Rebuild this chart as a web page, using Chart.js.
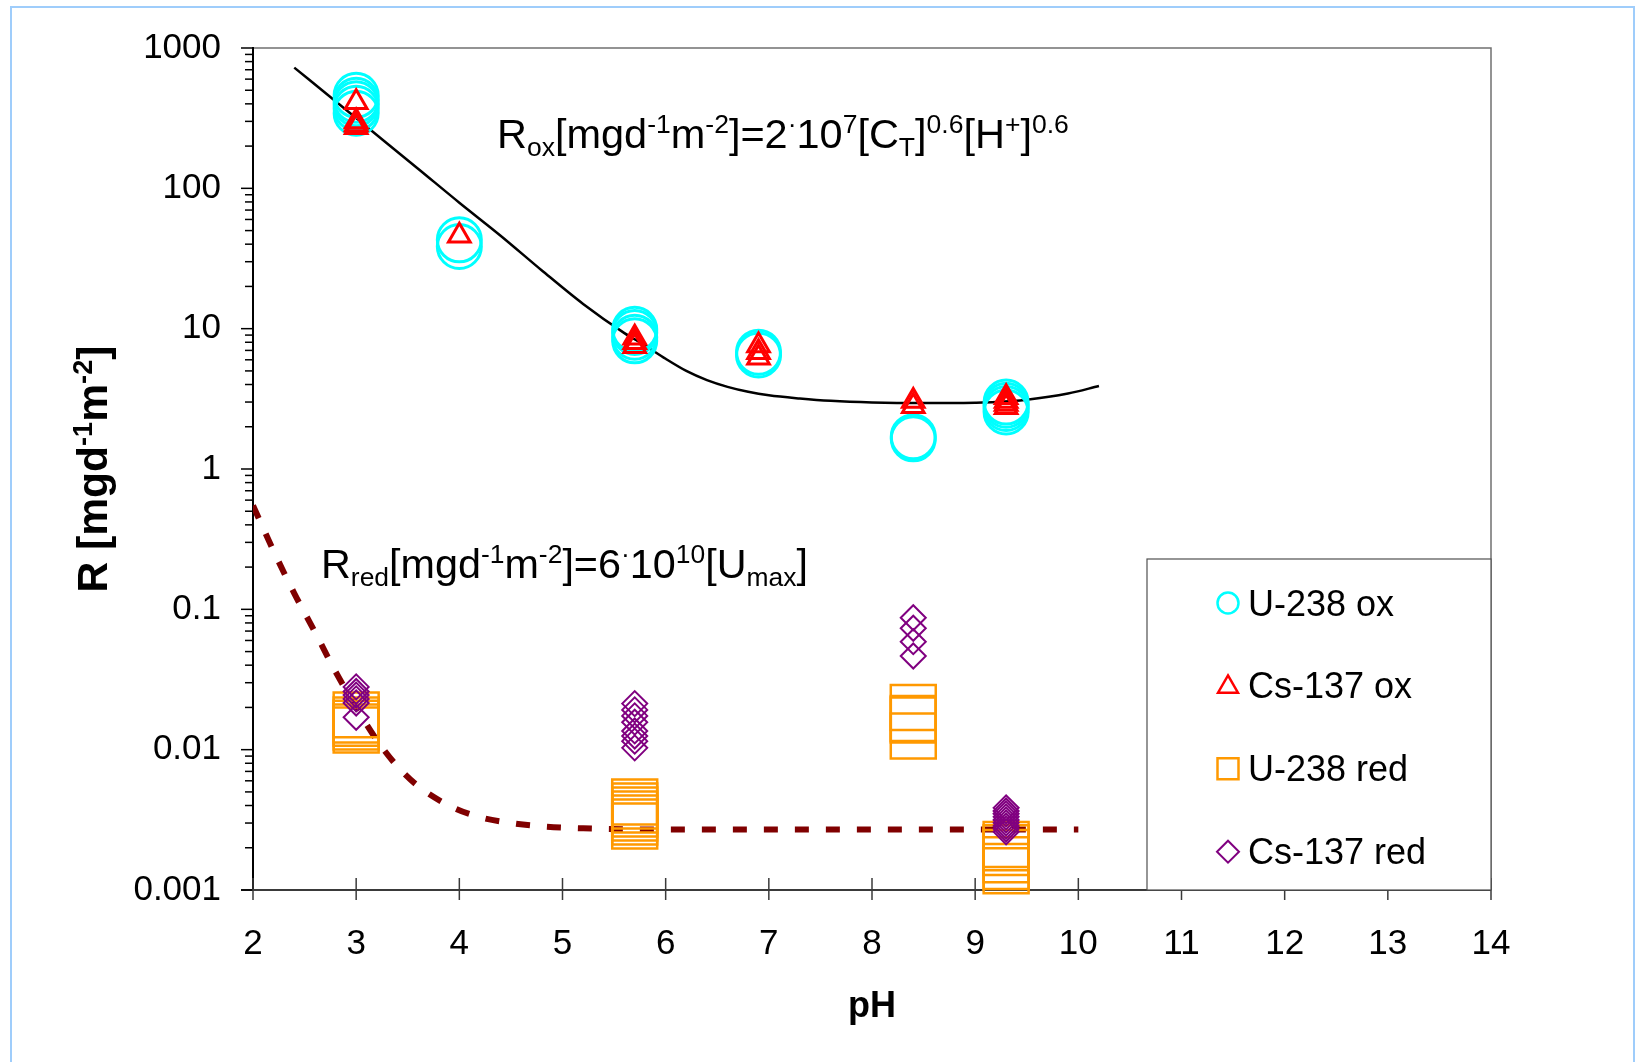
<!DOCTYPE html>
<html>
<head>
<meta charset="utf-8">
<script src="https://cdn.jsdelivr.net/npm/chart.js@4/dist/chart.umd.min.js"></script>
<style>
  html, body { margin: 0; padding: 0; background: #fff; }
  canvas { display: block; }
</style>
</head>
<body>
<canvas id="chart" width="1645" height="1062"></canvas>
<script>
// ---- data -------------------------------------------------------------
const xTickValues = [2, 3, 4, 5, 6, 7, 8, 9, 10, 11, 12, 13, 14];
const yTickValues = [0.001, 0.01, 0.1, 1, 10, 100, 1000];

// U-238, oxidizing conditions
const u238OxPH = [3, 3, 3, 3, 3, 4, 4, 5.7, 5.7, 5.7, 5.7, 6.9, 6.9, 8.4, 8.4, 9.3, 9.3, 9.3, 9.3];
const u238OxR  = [460, 424, 400, 372, 343, 43, 38.5, 9.9, 9.4, 8.7, 8.2, 6.8, 6.5, 1.7, 1.64, 3.0, 2.85, 2.7, 2.55];

// Cs-137, oxidizing conditions
const cs137OxPH = [3, 3, 3, 3, 4, 5.7, 5.7, 5.7, 6.9, 6.9, 6.9, 8.4, 8.4, 9.3, 9.3, 9.3, 9.3];
const cs137OxR  = [410, 300, 285, 272, 46, 8.6, 8.0, 7.5, 7.6, 6.8, 6.2, 3.05, 2.8, 3.25, 3.05, 2.9, 2.75];

// U-238, reducing conditions
const u238RedPH = [3, 3, 3, 3, 3, 5.7, 5.7, 5.7, 5.7, 5.7, 5.7, 5.7, 8.4, 8.4, 8.4, 8.4, 9.3, 9.3, 9.3, 9.3, 9.3, 9.3];
const u238RedR  = [0.0177, 0.0163, 0.0154, 0.0145, 0.0138,
                   0.00424, 0.00397, 0.00371, 0.00348, 0.00326, 0.00305, 0.00286,
                   0.0200, 0.0167, 0.0163, 0.0125,
                   0.00211, 0.00200, 0.00185, 0.00164, 0.00147, 0.00137];

// Cs-137, reducing conditions
const cs137RedPH = [3, 3, 3, 3, 3, 3, 5.7, 5.7, 5.7, 5.7, 5.7, 5.7, 5.7, 5.7, 8.4, 8.4, 8.4, 8.4,
                    9.3, 9.3, 9.3, 9.3, 9.3, 9.3, 9.3, 9.3, 9.3];
const cs137RedR  = [0.028, 0.026, 0.0245, 0.023, 0.0215, 0.017,
                    0.0213, 0.0192, 0.0174, 0.0157, 0.0136, 0.0125, 0.0115, 0.0103,
                    0.0871, 0.0733, 0.0588, 0.0465,
                    0.00385, 0.00366, 0.00349, 0.00332, 0.00316, 0.00301, 0.00286, 0.00273, 0.0026];

// Model curve, oxidizing: R = 2e7 [CT]^0.6 [H+]^0.6
const oxModelPH = [2.4, 2.8, 3.2, 3.6, 4.0, 4.4, 4.8, 5.2, 5.6, 5.8, 6.0, 6.2, 6.4, 6.6, 6.8, 7.0, 7.3, 7.6, 8.0, 8.5, 9.0, 9.2, 9.5, 9.9, 10.2];
const oxModelR  = [725, 417, 240, 138, 79, 46, 26, 15, 9.3, 7.6, 6.1, 5.0, 4.3, 3.85, 3.55, 3.35, 3.18, 3.06, 2.98, 2.95, 2.97, 3.0, 3.12, 3.45, 3.9];

// Model curve, reducing: R = 6e10 [Umax]
const redModelPH = [2.0, 2.2, 2.4, 2.6, 2.8, 3.0, 3.2, 3.4, 3.6, 3.9, 4.2, 4.5, 4.8, 5.2, 6.0, 7.0, 8.0, 9.0, 10.0];
const redModelR  = [0.55, 0.26, 0.13, 0.069, 0.036, 0.020, 0.0117, 0.0076, 0.0055, 0.0040, 0.0033, 0.0030,
                    0.00284, 0.00275, 0.0027, 0.0027, 0.0027, 0.0027, 0.0027];

const seriesNames = ['U-238 ox', 'Cs-137 ox', 'U-238 red', 'Cs-137 red'];

// ---- helpers ----------------------------------------------------------
const FONT = '"Liberation Sans", Arial, Helvetica, sans-serif';
const pts = (xs, ys) => xs.map((x, i) => ({ x: x, y: ys[i] }));

// draw a run list with sub/superscripts; returns total width
function runs(ctx, list, x, y, size, weight, draw) {
  let cx = x;
  for (const r of list) {
    const fs = r.s ? size * 0.64 : size;
    ctx.font = weight + ' ' + fs + 'px ' + FONT;
    const dy = r.s === 'sup' ? -size * 0.36 : (r.s === 'sub' ? size * 0.2 : 0);
    if (draw) ctx.fillText(r.t, cx, y + dy);
    cx += ctx.measureText(r.t).width;
  }
  return cx - x;
}
function fitted(ctx, list, width, weight) {
  const w = runs(ctx, list, 0, 0, 40, weight, false);
  return 40 * width / w;
}

function legendMarker(ctx, style, x, y, color) {
  ctx.save();
  ctx.strokeStyle = color;
  ctx.beginPath();
  if (style === 'circle') {
    ctx.lineWidth = 2.5;
    ctx.arc(x, y, 10.5, 0, Math.PI * 2);
  } else if (style === 'triangle') {
    ctx.lineWidth = 2.5;
    const r = 11.5;
    for (let k = 0; k < 3; k++) {
      const a = k * 2 * Math.PI / 3;
      const px = x + Math.sin(a) * r, py = y - Math.cos(a) * r;
      k ? ctx.lineTo(px, py) : ctx.moveTo(px, py);
    }
    ctx.closePath();
  } else if (style === 'rect') {
    ctx.lineWidth = 2.5;
    ctx.rect(x - 10.5, y - 10.5, 21, 21);
  } else {
    ctx.lineWidth = 2;
    ctx.moveTo(x - 11, y); ctx.lineTo(x, y - 11); ctx.lineTo(x + 11, y); ctx.lineTo(x, y + 11);
    ctx.closePath();
  }
  ctx.stroke();
  ctx.restore();
}

const decor = {
  id: 'decor',
  beforeDraw(chart) {
    const ctx = chart.ctx;
    ctx.save();
    ctx.fillStyle = '#fff';
    ctx.fillRect(0, 0, chart.width, chart.height);
    ctx.strokeStyle = '#9fcdfb';
    ctx.lineWidth = 2;
    ctx.strokeRect(11, 7, 1623, 1100);
    ctx.restore();
  },
  beforeDatasetsDraw(chart) {
    const { ctx, chartArea: a, scales: { x, y } } = chart;
    ctx.save();
    // plot frame
    ctx.lineWidth = 1.5;
    ctx.strokeStyle = '#707070';
    ctx.beginPath();
    ctx.moveTo(a.left, a.top); ctx.lineTo(a.right, a.top); ctx.lineTo(a.right, a.bottom);
    ctx.stroke();
    ctx.strokeStyle = '#000';
    ctx.lineWidth = 2;
    ctx.beginPath(); ctx.moveTo(a.left, a.top - 1); ctx.lineTo(a.left, a.bottom); ctx.stroke();
    ctx.strokeStyle = '#3a3a3a';
    ctx.beginPath(); ctx.moveTo(a.left - 12, a.bottom); ctx.lineTo(a.right, a.bottom); ctx.stroke();
    // y ticks: decades and minor ticks
    ctx.lineWidth = 1.5;
    ctx.strokeStyle = '#000';
    for (let d = -3; d <= 3; d++) {
      const py = y.getPixelForValue(Math.pow(10, d));
      ctx.beginPath(); ctx.moveTo(a.left - 12, py); ctx.lineTo(a.left, py); ctx.stroke();
      if (d < 3) {
        for (let m = 2; m <= 9; m++) {
          const my = y.getPixelForValue(m * Math.pow(10, d));
          ctx.beginPath(); ctx.moveTo(a.left - 8, my); ctx.lineTo(a.left, my); ctx.stroke();
        }
      }
    }
    // x ticks crossing the axis
    ctx.strokeStyle = '#3a3a3a';
    for (const v of xTickValues) {
      const px = x.getPixelForValue(v);
      ctx.beginPath(); ctx.moveTo(px, a.bottom - 12); ctx.lineTo(px, a.bottom + 10); ctx.stroke();
    }
    ctx.restore();
  },
  afterDraw(chart) {
    const ctx = chart.ctx;
    const a = chart.chartArea;
    ctx.save();
    ctx.fillStyle = '#000';
    ctx.textBaseline = 'alphabetic';
    ctx.textAlign = 'left';

    // model equations
    const eqOx = [{t:'R'},{t:'ox',s:'sub'},{t:'[mgd'},{t:'-1',s:'sup'},{t:'m'},{t:'-2',s:'sup'},{t:']=2'},
      {t:'·',s:'sup'},{t:'10'},{t:'7',s:'sup'},{t:'[C'},{t:'T',s:'sub'},{t:']'},{t:'0.6',s:'sup'},
      {t:'[H'},{t:'+',s:'sup'},{t:']'},{t:'0.6',s:'sup'}];
    const eqRed = [{t:'R'},{t:'red',s:'sub'},{t:'[mgd'},{t:'-1',s:'sup'},{t:'m'},{t:'-2',s:'sup'},{t:']=6'},
      {t:'·',s:'sup'},{t:'10'},{t:'10',s:'sup'},{t:'[U'},{t:'max',s:'sub'},{t:']'}];
    runs(ctx, eqOx, 497, 148, fitted(ctx, eqOx, 572, 'normal'), 'normal', true);
    runs(ctx, eqRed, 321, 578, fitted(ctx, eqRed, 487, 'normal'), 'normal', true);

    // axis titles
    const yTitle = [{t:'R [mgd'},{t:'-1',s:'sup'},{t:'m'},{t:'-2',s:'sup'},{t:']'}];
    const ys = fitted(ctx, yTitle, 247, 'bold');
    const yw = runs(ctx, yTitle, 0, 0, ys, 'bold', false);
    ctx.save();
    ctx.translate(107, (a.top + a.bottom) / 2);
    ctx.rotate(-Math.PI / 2);
    runs(ctx, yTitle, -yw / 2, 0, ys, 'bold', true);
    ctx.restore();
    ctx.font = 'bold 36px ' + FONT;
    ctx.textAlign = 'center';
    ctx.fillText('pH', (a.left + a.right) / 2, 1017);

    // legend
    ctx.fillStyle = '#fff';
    ctx.fillRect(1147, 559, a.right - 1147, a.bottom - 559);
    ctx.strokeStyle = '#505050';
    ctx.lineWidth = 1.2;
    ctx.strokeRect(1147, 559, a.right - 1147, a.bottom - 559);
    const styles = ['circle', 'triangle', 'rect', 'rectRot'];
    const colors = ['#00ffff', '#ff0000', '#ff9900', '#800080'];
    ctx.fillStyle = '#000';
    ctx.textAlign = 'left';
    ctx.font = '36px ' + FONT;
    for (let i = 0; i < 4; i++) {
      const cy = 603 + i * 82.9;
      legendMarker(ctx, styles[i], 1228, i === 1 ? cy + 1 : cy, colors[i]);
      ctx.fillText(seriesNames[i], 1248, cy + 12.5);
    }
    ctx.restore();
  }
};

const markerBase = { showLine: false, clip: false, pointBackgroundColor: 'rgba(0,0,0,0)', pointHoverRadius: 0 };

new Chart(document.getElementById('chart'), {
  type: 'scatter',
  data: {
    datasets: [
      Object.assign({}, markerBase, {
        label: seriesNames[3], data: pts(cs137RedPH, cs137RedR), order: 1,
        pointStyle: 'rectRot', pointRadius: 12.5, pointBorderWidth: 2,
        borderColor: '#800080', pointBorderColor: '#800080'
      }),
      Object.assign({}, markerBase, {
        label: seriesNames[2], data: pts(u238RedPH, u238RedR), order: 2,
        pointStyle: 'rect', pointRadius: 31.8, pointBorderWidth: 2.5,
        borderColor: '#ff9900', pointBorderColor: '#ff9900'
      }),
      Object.assign({}, markerBase, {
        label: seriesNames[1], data: pts(cs137OxPH, cs137OxR), order: 3,
        pointStyle: 'triangle', pointRadius: 12.5, pointBorderWidth: 3,
        borderColor: '#ff0000', pointBorderColor: '#ff0000'
      }),
      Object.assign({}, markerBase, {
        label: seriesNames[0], data: pts(u238OxPH, u238OxR), order: 4,
        pointStyle: 'circle', pointRadius: 22, pointBorderWidth: 3,
        borderColor: '#00ffff', pointBorderColor: '#00ffff'
      }),
      {
        label: 'R ox model', data: pts(oxModelPH, oxModelR), order: 5,
        showLine: true, pointRadius: 0, borderColor: '#000', borderWidth: 2.5,
        cubicInterpolationMode: 'monotone', fill: false
      },
      {
        label: 'R red model', data: pts(redModelPH, redModelR), order: 6,
        showLine: true, pointRadius: 0, borderColor: '#800000', borderWidth: 6,
        borderDash: [14, 17], cubicInterpolationMode: 'monotone', fill: false
      }
    ]
  },
  options: {
    responsive: false,
    animation: false,
    devicePixelRatio: 1,
    events: [],
    layout: { padding: { top: 48, left: 0, right: 154, bottom: 0 } },
    plugins: { legend: { display: false }, tooltip: { enabled: false } },
    scales: {
      x: {
        type: 'linear', min: 2, max: 14,
        afterBuildTicks: s => { s.ticks = xTickValues.map(v => ({ value: v })); },
        afterFit: s => { s.height = 172; },
        grid: { display: false, drawTicks: false },
        border: { display: false },
        ticks: { color: '#000', font: { family: FONT, size: 35 }, padding: 33, maxRotation: 0 }
      },
      y: {
        type: 'logarithmic', min: 0.001, max: 1000,
        afterBuildTicks: s => { s.ticks = yTickValues.map(v => ({ value: v })); },
        afterFit: s => { s.width = 253; },
        grid: { display: false, drawTicks: true, tickLength: 32 },
        border: { display: false },
        ticks: { color: '#000', font: { family: FONT, size: 35 }, padding: 0,
                 callback: v => String(v) }
      }
    }
  },
  plugins: [decor]
});
</script>
</body>
</html>
